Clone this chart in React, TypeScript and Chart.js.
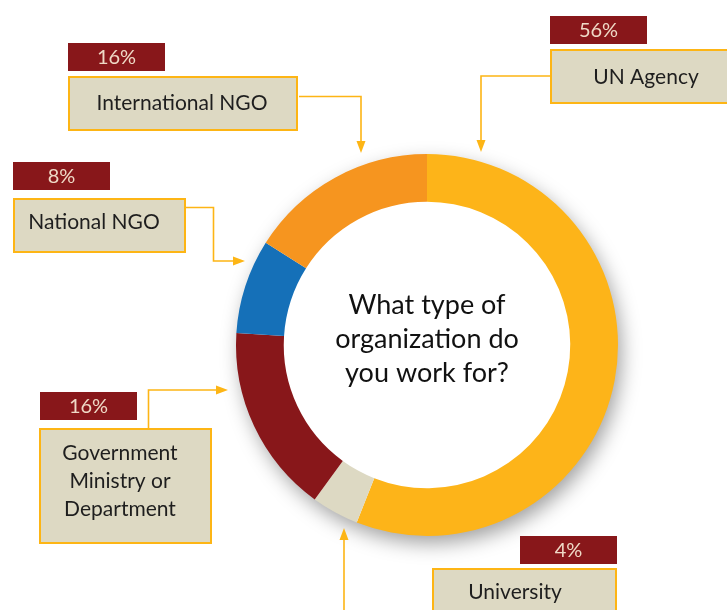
import React, { useEffect, useRef } from "react";
import { Chart, registerables } from "chart.js";

Chart.register(...registerables);

// ---- Data ----
const categories = ["UN Agency", "University", "Government Ministry or Department", "National NGO", "International NGO"];
const values = [56, 4, 16, 8, 16];
const percentLabels = ["56%", "4%", "16%", "8%", "16%"];
const boxLines = [["UN Agency"], ["University"], ["Government", "Ministry or", "Department"], ["National NGO"], ["International NGO"]];
const segmentColors = ["#FDB419", "#DDD9C3", "#88171A", "#1570B8", "#F6951F"];
const centerLines = ["What type of", "organization do", "you work for?"];

// ---- Annotation layout (positions only) ----
type Pt = [number, number];
interface Callout {
  tab: [number, number, number, number];
  box: [number, number, number, number];
  textX: number;
  firstBaseline: number;
  lineGap: number;
  path: Pt[];
}
const callouts: Callout[] = [
  { tab: [550, 16, 97, 28], box: [550, 49, 200, 55], textX: 646, firstBaseline: 84, lineGap: 0, path: [[550, 76], [481, 76], [481, 152]] },
  { tab: [520, 536, 97, 28], box: [432, 568, 185, 60], textX: 515, firstBaseline: 599, lineGap: 0, path: [[344, 612], [344, 528]] },
  { tab: [40, 392, 97, 28], box: [39, 428, 173, 116], textX: 120, firstBaseline: 460, lineGap: 28, path: [[148.5, 428], [148.5, 390], [228, 390]] },
  { tab: [13, 162, 97, 28], box: [13, 198, 173, 55], textX: 94, firstBaseline: 229, lineGap: 0, path: [[186, 207.5], [213.5, 207.5], [213.5, 261], [245, 261]] },
  { tab: [68, 43, 97, 28], box: [68, 76, 230, 55], textX: 182, firstBaseline: 110, lineGap: 0, path: [[299, 96.5], [361, 96.5], [361, 153]] },
];

const GOLD = "#FDB515";
const FONT = "Lato, 'Open Sans', sans-serif";

const annotationPlugin = {
  id: "annotations",
  beforeDatasetsDraw(chart: any) {
    const arc = chart.getDatasetMeta(0).data[0];
    if (!arc) return;
    const ctx = chart.ctx;
    ctx.save();
    ctx.shadowColor = "rgba(0,0,0,0.38)";
    ctx.shadowBlur = 20;
    ctx.shadowOffsetX = 4;
    ctx.shadowOffsetY = 8;
    ctx.fillStyle = "#ffffff";
    ctx.beginPath();
    ctx.arc(arc.x, arc.y, arc.outerRadius - 1, 0, Math.PI * 2);
    ctx.fill();
    ctx.restore();
  },
  afterDraw(chart: any) {
    const ctx = chart.ctx;
    const arc = chart.getDatasetMeta(0).data[0];
    ctx.save();
    // center text
    if (arc) {
      ctx.fillStyle = "#111111";
      ctx.font = `27px ${FONT}`;
      ctx.textAlign = "center";
      ctx.textBaseline = "alphabetic";
      centerLines.forEach((l, i) => ctx.fillText(l, arc.x, arc.y - 31 + i * 34));
    }
    callouts.forEach((c, idx) => {
      // connector
      ctx.strokeStyle = GOLD;
      ctx.fillStyle = GOLD;
      ctx.lineWidth = 1.6;
      const p = c.path;
      const tip = p[p.length - 1];
      const prev = p[p.length - 2];
      const dx = Math.sign(tip[0] - prev[0]);
      const dy = Math.sign(tip[1] - prev[1]);
      const L = 12, W = 4.5;
      const base: Pt = [tip[0] - dx * L, tip[1] - dy * L];
      ctx.beginPath();
      ctx.moveTo(p[0][0], p[0][1]);
      for (let i = 1; i < p.length - 1; i++) ctx.lineTo(p[i][0], p[i][1]);
      ctx.lineTo(base[0], base[1]);
      ctx.stroke();
      ctx.beginPath();
      ctx.moveTo(tip[0], tip[1]);
      ctx.lineTo(base[0] + dy * W, base[1] + dx * W);
      ctx.lineTo(base[0] - dy * W, base[1] - dx * W);
      ctx.closePath();
      ctx.fill();
      // tab
      const [tx, ty, tw, th] = c.tab;
      ctx.fillStyle = "#88171A";
      ctx.fillRect(tx, ty, tw, th);
      ctx.fillStyle = "#EFD9C6";
      ctx.font = `20px ${FONT}`;
      ctx.textAlign = "center";
      ctx.textBaseline = "middle";
      ctx.fillText(percentLabels[idx], tx + tw / 2, ty + th / 2 + 1);
      // box
      const [bx, by, bw, bh] = c.box;
      ctx.fillStyle = "#DDD9C3";
      ctx.fillRect(bx, by, bw, bh);
      ctx.strokeStyle = GOLD;
      ctx.lineWidth = 2;
      ctx.strokeRect(bx + 1, by + 1, bw - 2, bh - 2);
      ctx.fillStyle = "#1E1E1E";
      ctx.font = `21px ${FONT}`;
      ctx.textBaseline = "alphabetic";
      boxLines[idx].forEach((l, i) => ctx.fillText(l, c.textX, c.firstBaseline + i * c.lineGap));
    });
    ctx.restore();
  },
};

export default function App() {
  const ref = useRef<HTMLCanvasElement | null>(null);
  useEffect(() => {
    if (!ref.current) return;
    const chart = new Chart(ref.current, {
      type: "doughnut",
      data: {
        labels: categories,
        datasets: [
          {
            data: values,
            backgroundColor: segmentColors,
            borderWidth: 0,
          },
        ],
      },
      options: {
        responsive: false,
        animation: false,
        cutout: "75%",
        rotation: 0,
        layout: { padding: { left: 236, right: 109, top: 154, bottom: 74 } },
        plugins: { legend: { display: false }, tooltip: { enabled: false } },
      },
      plugins: [annotationPlugin],
    });
    return () => chart.destroy();
  }, []);
  return (
    <div style={{ position: "fixed", left: 0, top: 0, width: 727, height: 610, background: "#fff" }}>
      <canvas ref={ref} width={727} height={610} style={{ width: 727, height: 610, display: "block" }} />
    </div>
  );
}
